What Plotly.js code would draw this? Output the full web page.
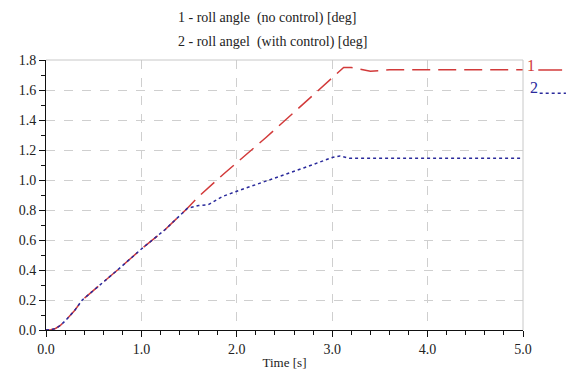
<!DOCTYPE html>
<html>
<head>
<meta charset="utf-8">
<script src="https://cdn.plot.ly/plotly-3.0.1.min.js"></script>
<style>html,body{margin:0;padding:0;background:#fff;}#chart{width:575px;height:376px;}</style>
</head>
<body>
<div id="chart"></div>
<script>
// Series 1: roll angle (no control) [deg]
const t1 = [0, 0.05, 0.1, 0.15, 0.2, 0.3, 0.38, 0.55, 0.75, 1.0, 1.25, 1.48, 1.6, 1.88, 2.3, 2.58, 2.9, 3.12, 3.2, 3.3, 3.4, 3.5, 3.6, 4.0, 4.5, 5.0];
const y1 = [0, 0.002, 0.01, 0.03, 0.06, 0.13, 0.2, 0.29, 0.4, 0.54, 0.67, 0.81, 0.89, 1.05, 1.28, 1.44, 1.62, 1.75, 1.75, 1.735, 1.725, 1.73, 1.735, 1.735, 1.735, 1.735];
// Series 2: roll angle (with control) [deg]
const t2 = [0, 0.05, 0.1, 0.15, 0.2, 0.3, 0.38, 0.55, 0.75, 1.0, 1.25, 1.48, 1.6, 1.7, 1.85, 2.0, 2.35, 2.7, 3.0, 3.08, 3.18, 3.5, 4.0, 4.5, 5.0];
const y2 = [0, 0.002, 0.01, 0.03, 0.06, 0.13, 0.2, 0.29, 0.4, 0.54, 0.67, 0.81, 0.83, 0.835, 0.89, 0.925, 1.0, 1.08, 1.15, 1.16, 1.145, 1.145, 1.145, 1.145, 1.145];

const titleLines = ["1 - roll angle\u00a0\u00a0(no control) [deg]", "2 - roll angel\u00a0\u00a0(with control) [deg]"];
const seriesLabels = ["1", "2"];
const xTitle = "Time [s]";

const serif = "'Liberation Serif', 'DejaVu Serif', serif";
const red = "#d23a3a";
const blue = "#2a2a9c";

const traces = [
  {x: t1, y: y1, mode: "lines", line: {color: red, width: 1.5, dash: "18px,8px"}, hoverinfo: "skip"},
  {x: t2, y: y2, mode: "lines", line: {color: blue, width: 1.5, dash: "3px,3px"}, hoverinfo: "skip"}
];

const layout = {
  width: 575, height: 376,
  margin: {l: 46, r: 52, t: 60, b: 46},
  paper_bgcolor: "#fff", plot_bgcolor: "#fff",
  showlegend: false,
  font: {family: serif, size: 13, color: "#222"},
  xaxis: {
    range: [0, 5], dtick: 1, tickformat: ".1f",
    showline: true, linecolor: "#111", linewidth: 1,
    ticks: "outside", ticklen: 6, tickcolor: "#111",
    minor: {dtick: 0.2, ticklen: 4, tickcolor: "#111", showgrid: false},
    showgrid: true, gridcolor: "#cfcfcf", griddash: "dash", gridwidth: 1,
    zeroline: false,
    tickfont: {family: serif, size: 14, color: "#222"},
    title: {text: xTitle, font: {family: serif, size: 13, color: "#222"}, standoff: 2}
  },
  yaxis: {
    range: [0, 1.8], dtick: 0.2, tickformat: ".1f",
    showline: true, linecolor: "#111", linewidth: 1,
    ticks: "outside", ticklen: 6, tickcolor: "#111",
    minor: {dtick: 0.1, ticklen: 4, tickcolor: "#111", showgrid: false},
    showgrid: true, gridcolor: "#cfcfcf", griddash: "dash", gridwidth: 1,
    zeroline: false,
    tickfont: {family: serif, size: 14, color: "#222"}
  },
  shapes: [
    {type: "line", xref: "paper", yref: "paper", x0: 0, x1: 1, y0: 1, y1: 1, line: {color: "#c8c8c8", width: 1}},
    {type: "line", xref: "paper", yref: "paper", x0: 1, x1: 1, y0: 0, y1: 1, line: {color: "#c8c8c8", width: 1}},
    {type: "line", xref: "paper", yref: "paper", x0: 1.032, x1: 1.082, y0: 0.963, y1: 0.963, line: {color: red, width: 1.5}},
    {type: "line", xref: "paper", yref: "paper", x0: 1.035, x1: 1.09, y0: 0.877, y1: 0.877, line: {color: blue, width: 1.5, dash: "3px,3px"}}
  ],
  annotations: [
    {text: titleLines[0], xref: "paper", yref: "paper", x: 0.272, y: 1.157, xanchor: "left", yanchor: "middle", showarrow: false, font: {family: serif, size: 14, color: "#222"}},
    {text: titleLines[1], xref: "paper", yref: "paper", x: 0.272, y: 1.065, xanchor: "left", yanchor: "middle", showarrow: false, font: {family: serif, size: 14, color: "#222"}},
    {text: seriesLabels[0], xref: "paper", yref: "paper", x: 1.004, y: 0.978, xanchor: "left", yanchor: "middle", showarrow: false, font: {family: serif, size: 16, color: red}},
    {text: seriesLabels[1], xref: "paper", yref: "paper", x: 1.01, y: 0.9, xanchor: "left", yanchor: "middle", showarrow: false, font: {family: serif, size: 16, color: blue}}
  ]
};

Plotly.newPlot("chart", traces, layout, {staticPlot: true, displayModeBar: false});
</script>
</body>
</html>
